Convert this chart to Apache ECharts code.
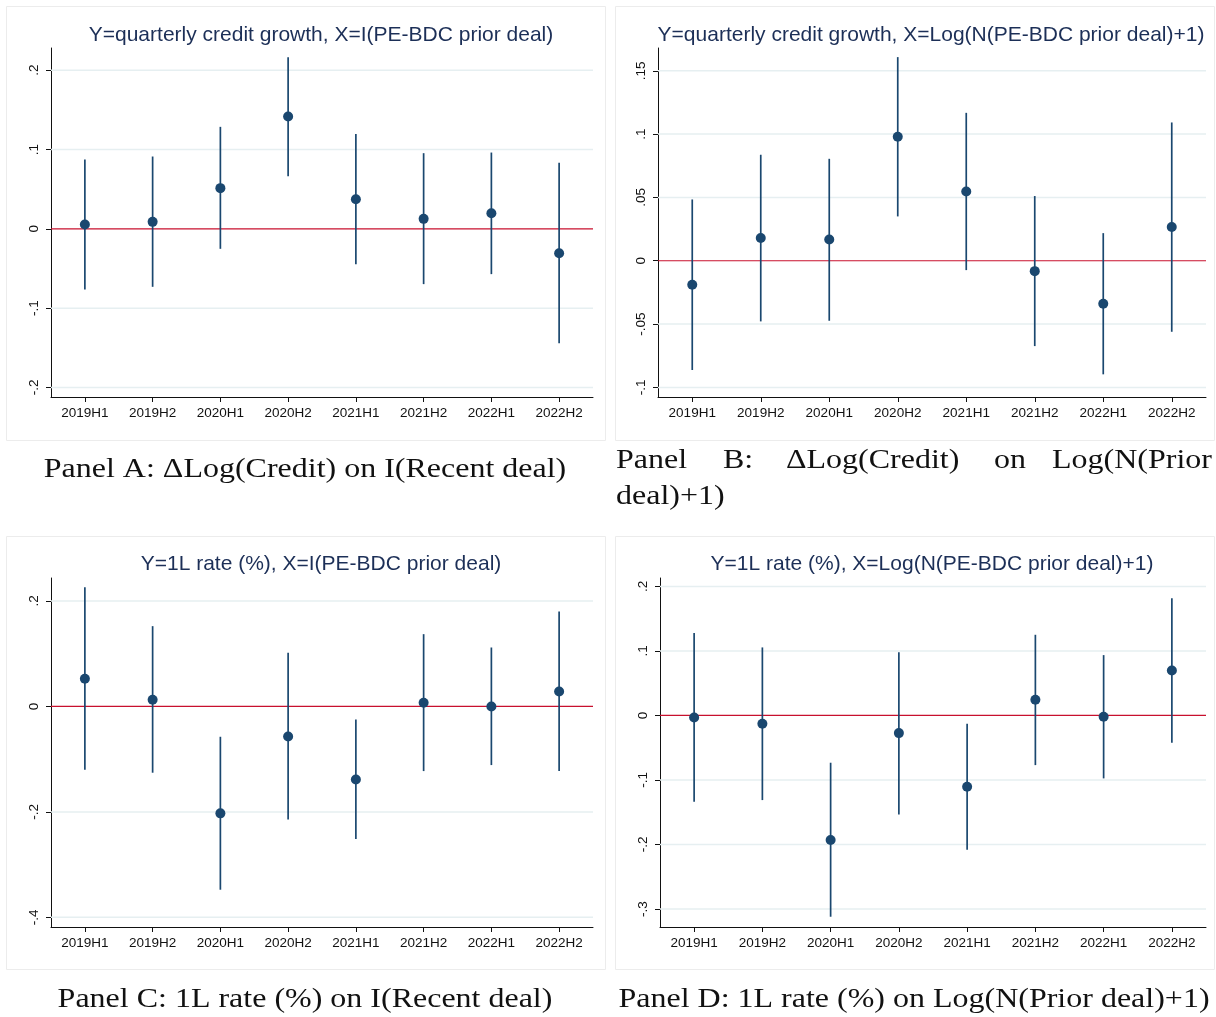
<!DOCTYPE html>
<html>
<head>
<meta charset="utf-8">
<script src="https://cdn.jsdelivr.net/npm/echarts@6/dist/echarts.min.js"></script>
<style>
  html, body { margin: 0; padding: 0; background: #ffffff; }
  #chart { width: 1216px; height: 1017px; }
</style>
</head>
<body>
<div id="chart"></div>
<script>
// Half-year periods shared by all four panels
const categories = ['2019H1', '2019H2', '2020H1', '2020H2', '2021H1', '2021H2', '2022H1', '2022H2'];

// Panel A: quarterly credit growth on I(PE-BDC prior deal)
const coefA = [0.0055, 0.0088, 0.0513, 0.1416, 0.0374, 0.0126, 0.0197, -0.0307];
const loA   = [-0.0765, -0.0731, -0.0252, 0.0664, -0.0445, -0.0697, -0.0571, -0.1441];
const hiA   = [0.0874, 0.0912, 0.1286, 0.2164, 0.1197, 0.0954, 0.0962, 0.0832];
const ticksA = [-0.2, -0.1, 0, 0.1, 0.2];

// Panel B: quarterly credit growth on Log(N(PE-BDC prior deal)+1)
const coefB = [-0.0189, 0.0179, 0.0168, 0.0979, 0.0547, -0.0082, -0.0339, 0.0266];
const loB   = [-0.0863, -0.0479, -0.0474, 0.0350, -0.0074, -0.0674, -0.0897, -0.0561];
const hiB   = [0.0484, 0.0837, 0.0805, 0.1608, 0.1168, 0.0511, 0.0218, 0.1092];
const ticksB = [-0.1, -0.05, 0, 0.05, 0.1, 0.15];

// Panel C: 1L rate (%) on I(PE-BDC prior deal)
const coefC = [0.0524, 0.0126, -0.2028, -0.0569, -0.1384, 0.0070, 0.0000, 0.0284];
const loC   = [-0.1201, -0.1257, -0.3476, -0.2142, -0.2515, -0.1226, -0.1112, -0.1226];
const hiC   = [0.2262, 0.1523, -0.0575, 0.1017, -0.0246, 0.1371, 0.1118, 0.1801];
const ticksC = [-0.4, -0.2, 0, 0.2];

// Panel D: 1L rate (%) on Log(N(PE-BDC prior deal)+1)
const coefD = [-0.0031, -0.0129, -0.1932, -0.0274, -0.1105, 0.0243, -0.0021, 0.0697];
const loD   = [-0.1338, -0.1312, -0.3120, -0.1534, -0.2082, -0.0770, -0.0976, -0.0424];
const hiD   = [0.1276, 0.1054, -0.0733, 0.0981, -0.0129, 0.1250, 0.0935, 0.1818];
const ticksD = [-0.3, -0.2, -0.1, 0, 0.1, 0.2];

const titles = [
  'Y=quarterly credit growth, X=I(PE-BDC prior deal)',
  'Y=quarterly credit growth, X=Log(N(PE-BDC prior deal)+1)',
  'Y=1L rate (%), X=I(PE-BDC prior deal)',
  'Y=1L rate (%), X=Log(N(PE-BDC prior deal)+1)'
];

const NAVY = '#1a476f';
const TITLE_COLOR = '#1c2f57';
const GRID_COLOR = '#e6eff1';
const ZERO_COLOR = '#c8102e';
const SANS = '"Liberation Sans", Arial, Helvetica, sans-serif';
const SERIF = '"Liberation Serif", "DejaVu Serif", serif';

const panels = [
  { coef: coefA, lo: loA, hi: hiA, ticks: ticksA, ymin: -0.212, ymax: 0.228,
    grid: { left: 51, top: 48, width: 542, height: 349 }, frame: [6.5, 6.5, 599, 434] },
  { coef: coefB, lo: loB, hi: hiB, ticks: ticksB, ymin: -0.1076, ymax: 0.168,
    grid: { left: 658, top: 48, width: 548, height: 349 }, frame: [615.5, 6.5, 599, 434] },
  { coef: coefC, lo: loC, hi: hiC, ticks: ticksC, ymin: -0.4183, ymax: 0.2436,
    grid: { left: 51, top: 578, width: 542, height: 349 }, frame: [6.5, 536.5, 599, 433] },
  { coef: coefD, lo: loD, hi: hiD, ticks: ticksD, ymin: -0.3279, ymax: 0.213,
    grid: { left: 660, top: 578, width: 546, height: 349 }, frame: [615.5, 536.5, 599, 433] }
];

// Stata-style tick text: ".2", "-.05", "0"
function fmtTick(v) {
  const r = Math.round(v * 1000) / 1000;
  if (r === 0) return '0';
  const s = String(Math.abs(r)).replace(/^0/, '');
  return (r < 0 ? '-' : '') + s;
}

const grids = [], xAxes = [], yAxes = [], series = [], titleOpts = [], graphics = [];

panels.forEach((p, i) => {
  grids.push(Object.assign({ containLabel: false }, p.grid));

  titleOpts.push({
    text: titles[i],
    left: p.grid.left + p.grid.width / 2 - 6,
    top: i < 2 ? 20 : 549,
    textAlign: 'center',
    textStyle: { fontFamily: SANS, fontSize: 21, fontWeight: 'normal', color: TITLE_COLOR }
  });

  xAxes.push({
    type: 'category', gridIndex: i, data: categories, boundaryGap: true,
    axisLine: { show: true, onZero: false, lineStyle: { color: '#111', width: 1 } },
    axisTick: { show: true, alignWithLabel: true, length: 5, lineStyle: { color: '#111' } },
    axisLabel: { fontFamily: SANS, fontSize: 13.5, color: '#111', margin: 9, interval: 0 },
    splitLine: { show: false }
  });

  yAxes.push({
    type: 'value', gridIndex: i, min: p.ymin, max: p.ymax,
    axisLine: { show: true, onZero: false, lineStyle: { color: '#111', width: 1 } },
    axisTick: { show: true, length: 5, customValues: p.ticks, lineStyle: { color: '#111' } },
    axisLabel: { fontFamily: SANS, fontSize: 13.5, color: '#111', rotate: 90, margin: 10,
                 customValues: p.ticks, formatter: fmtTick },
    splitLine: { show: false }
  });

  // horizontal grid lines at the labelled ticks, plus the red zero reference line
  series.push({
    type: 'custom', xAxisIndex: i, yAxisIndex: i, z: 1, silent: true,
    data: p.ticks.map(t => [0, t]),
    encode: { x: 0, y: 1 },
    renderItem: function (params, api) {
      const v = api.value(1);
      const cs = params.coordSys;
      const y = api.coord([0, v])[1];
      const isZero = Math.abs(v) < 1e-9;
      return {
        type: 'line', z2: isZero ? 10 : 1,
        shape: { x1: cs.x, y1: y, x2: cs.x + cs.width, y2: y },
        style: { stroke: isZero ? ZERO_COLOR : GRID_COLOR, lineWidth: isZero ? 1.2 : 1.5 }
      };
    }
  });

  // confidence intervals as vertical spikes
  series.push({
    type: 'custom', xAxisIndex: i, yAxisIndex: i, z: 3, silent: true,
    data: categories.map((c, k) => [k, p.lo[k], p.hi[k]]),
    encode: { x: 0, y: [1, 2] },
    renderItem: function (params, api) {
      const a = api.coord([api.value(0), api.value(1)]);
      const b = api.coord([api.value(0), api.value(2)]);
      return {
        type: 'line',
        shape: { x1: a[0], y1: a[1], x2: b[0], y2: b[1] },
        style: { stroke: NAVY, lineWidth: 1.7 }
      };
    }
  });

  // point estimates
  series.push({
    type: 'scatter', xAxisIndex: i, yAxisIndex: i, z: 4, silent: true,
    symbol: 'circle', symbolSize: 10,
    itemStyle: { color: NAVY, opacity: 1 },
    data: p.coef
  });

  graphics.push({
    type: 'rect', silent: true, z: 0,
    shape: { x: p.frame[0], y: p.frame[1], width: p.frame[2], height: p.frame[3] },
    style: { fill: 'none', stroke: '#ececec', lineWidth: 1 }
  });
});

// panel captions (Times widened toward the proportions of Computer Modern)
const CAP_SCALE_X = 1.185;
function caption(text, x, y, align) {
  return { type: 'text', silent: true, x: x, y: y, scaleX: CAP_SCALE_X,
           style: { text: text, textAlign: align || 'center', textVerticalAlign: 'middle',
                    fontFamily: SERIF, fontSize: 27, fill: '#111' } };
}
graphics.push(caption('Panel A: \u0394Log(Credit) on I(Recent deal)', 305, 470));
// justified two-line caption for panel B
graphics.push(caption('Panel', 616, 461, 'left'));
graphics.push(caption('B:', 723, 461, 'left'));
graphics.push(caption('\u0394Log(Credit)', 786, 461, 'left'));
graphics.push(caption('on', 994, 461, 'left'));
graphics.push(caption('Log(N(Prior', 1212, 461, 'right'));
graphics.push(caption('deal)+1)', 616, 497, 'left'));
graphics.push(caption('Panel C: 1L rate (%) on I(Recent deal)', 305, 1000));
graphics.push(caption('Panel D: 1L rate (%) on Log(N(Prior deal)+1)', 914, 1000));

const chart = echarts.init(document.getElementById('chart'), null, { renderer: 'canvas' });
chart.setOption({
  backgroundColor: '#ffffff',
  animation: false,
  title: titleOpts,
  grid: grids,
  xAxis: xAxes,
  yAxis: yAxes,
  series: series,
  graphic: graphics
});
</script>
</body>
</html>
